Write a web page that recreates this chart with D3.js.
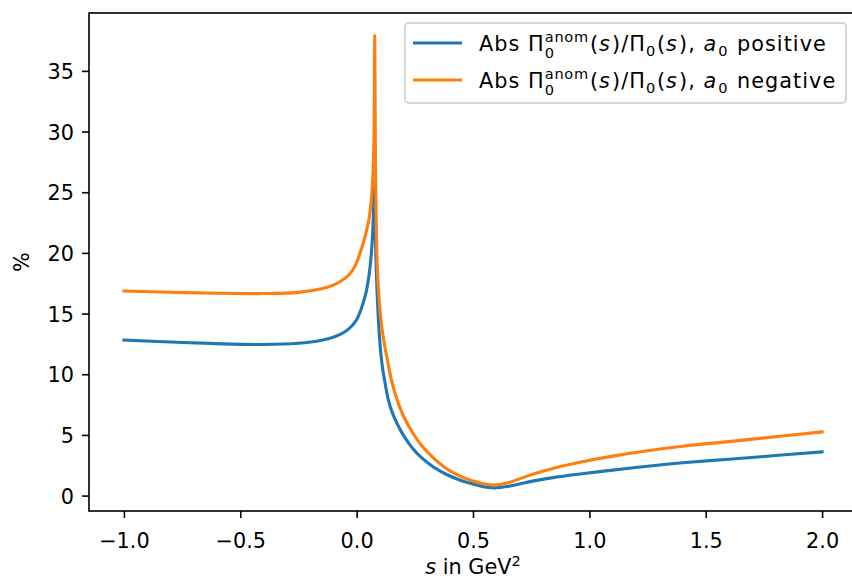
<!DOCTYPE html>
<html><head><meta charset="utf-8">
<script src="https://cdn.jsdelivr.net/npm/d3@7"></script>
<style>body{margin:0;background:#fff} svg{display:block} text{font-family:"DejaVu Sans",sans-serif;fill:#000;white-space:pre}</style>
</head><body><svg id="c" width="852" height="579"></svg>
<script>
// s grid (GeV^2)
const sValues = [-1.0,-0.8,-0.6,-0.4,-0.25,-0.15,-0.1,-0.05,-0.02,0.0,0.02,0.04,0.055,0.065,0.071,0.075,0.078,0.081,0.085,0.09,0.1,0.11,0.122,0.136,0.15,0.172,0.2,0.24,0.28,0.33,0.38,0.44,0.5,0.55,0.6,0.65,0.7,0.75,0.85,0.96,1.1,1.25,1.4,1.6,1.8,2.0];
// Abs Pi0^anom/Pi0 (%), a0 positive
const positive = [12.82,12.66,12.52,12.45,12.55,12.8,13.05,13.5,14.0,14.5,15.4,16.7,18.4,20.4,22.6,24.6,25.5,21.0,18.3,15.8,12.6,10.7,9.3,7.9,7.0,6.0,5.0,3.9,3.1,2.35,1.8,1.3,0.95,0.72,0.64,0.76,0.96,1.17,1.5,1.78,2.1,2.42,2.7,3.0,3.3,3.6];
// a0 negative
const negative = [16.86,16.76,16.68,16.65,16.75,17.05,17.35,17.9,18.5,19.2,20.3,21.6,23.0,24.8,26.8,30.0,37.9,27.0,21.5,18.3,15.4,13.6,12.2,10.8,9.5,8.0,6.6,5.2,4.1,3.1,2.3,1.65,1.2,0.95,0.88,1.05,1.38,1.72,2.28,2.75,3.25,3.7,4.07,4.45,4.85,5.25];
const xTicks = [-1.0,-0.5,0.0,0.5,1.0,1.5,2.0];
const yTicks = [0,5,10,15,20,25,30,35];
const seriesNames = ["positive","negative"];
const colors = ["#1f77b4","#ff7f0e"];

const FS = 20.8;
const svg = d3.select("#c");
const L = 89, R = 857, T = 13, B = 511;
const x = d3.scaleLinear().domain([-1.15, 2.15]).range([L, R]);
const y = d3.scaleLinear().domain([-1.27, 39.77]).range([B, T]);

const xAxis = svg.append("g").attr("transform", `translate(0,${B})`)
  .call(d3.axisBottom(x).tickValues(xTicks).tickFormat(d3.format(".1f")).tickSize(7).tickSizeOuter(0));
xAxis.select(".domain").remove();
xAxis.selectAll("line").attr("stroke","#000").attr("stroke-width",1.6);
xAxis.selectAll("text").attr("y", 37).attr("dy", 0).style("font-size", FS+"px").attr("fill","#000");

const yAxis = svg.append("g").attr("transform", `translate(${L},0)`)
  .call(d3.axisLeft(y).tickValues(yTicks).tickFormat(d3.format("d")).tickSize(7).tickPadding(8).tickSizeOuter(0));
yAxis.select(".domain").remove();
yAxis.selectAll("line").attr("stroke","#000").attr("stroke-width",1.6);
yAxis.selectAll("text").attr("dy", "0.36em").style("font-size", FS+"px").attr("fill","#000");

svg.append("clipPath").attr("id","clp").append("rect")
  .attr("x",L).attr("y",T).attr("width",R-L).attr("height",B-T);

const line = d3.line().x(d => x(d[0])).y(d => y(d[1])).curve(d3.curveCatmullRom.alpha(0.5));
[positive, negative].forEach((vals, i) => {
  svg.append("path").attr("clip-path","url(#clp)")
    .datum(sValues.map((s, j) => [s, vals[j]]))
    .attr("fill","none").attr("stroke", colors[i]).attr("stroke-width",3.1)
    .attr("stroke-linejoin","round").attr("stroke-linecap","square")
    .attr("d", line);
});

svg.append("rect").attr("x",L).attr("y",T).attr("width",R-L).attr("height",B-T)
  .attr("fill","none").attr("stroke","#000").attr("stroke-width",1.6);

// axis labels
const xl = svg.append("text").attr("x", (L+R)/2).attr("y", 574).attr("text-anchor","middle").style("font-size",FS+"px");
xl.append("tspan").text("s").style("font-style","italic");
xl.append("tspan").text(" in GeV");
xl.append("tspan").text("2").style("font-size",(FS*0.7)+"px").attr("dy",-8);
svg.append("text").attr("transform",`translate(29,${(T+B)/2}) rotate(-90)`).attr("text-anchor","middle")
  .style("font-size",FS+"px").text("%");

// legend
const lg = svg.append("g");
lg.append("rect").attr("x",405).attr("y",23).attr("width",441).attr("height",80)
  .attr("rx",4).attr("fill","#fff").attr("fill-opacity",0.8).attr("stroke","#cccccc").attr("stroke-width",1.6);

const LS = 1.05; // mathtext-like glyph spacing
function mathRow(g, x0, yb, parts) {
  let cx = x0;
  const sub = FS*0.7;
  parts.forEach(p => {
    if (p.t !== undefined) {
      const t = g.append("text").attr("x",cx).attr("y",yb).style("font-size",FS+"px")
        .style("letter-spacing", LS+"px")
        .style("font-style", p.i ? "italic" : "normal").text(p.t);
      cx += t.node().getComputedTextLength() + (p.i ? 1 : 0);
    } else {
      let w = 0;
      if (p.sup) {
        const t = g.append("text").attr("x",cx).attr("y",yb-9).style("font-size",sub+"px")
          .style("letter-spacing", (LS*0.7)+"px").text(p.sup);
        w = Math.max(w, t.node().getComputedTextLength());
      }
      if (p.sub) {
        const t = g.append("text").attr("x",cx).attr("y",yb + (p.sup ? 7 : 5)).style("font-size",sub+"px")
          .style("letter-spacing", (LS*0.7)+"px").text(p.sub);
        w = Math.max(w, t.node().getComputedTextLength());
      }
      cx += w + 1;
    }
  });
}
const rows = [43, 80];
seriesNames.forEach((nm, i) => {
  lg.append("line").attr("x1",413).attr("x2",462).attr("y1",rows[i]).attr("y2",rows[i])
    .attr("stroke",colors[i]).attr("stroke-width",3.1);
  mathRow(lg, 479, rows[i]+7.5, [
    {t:"Abs Π"}, {sup:"anom", sub:"0"}, {t:"("}, {t:"s", i:true}, {t:")/Π"}, {sub:"0"},
    {t:"("}, {t:"s", i:true}, {t:"), "}, {t:"a", i:true}, {sub:"0"}, {t:" " + nm}
  ]);
});
</script></body></html>
